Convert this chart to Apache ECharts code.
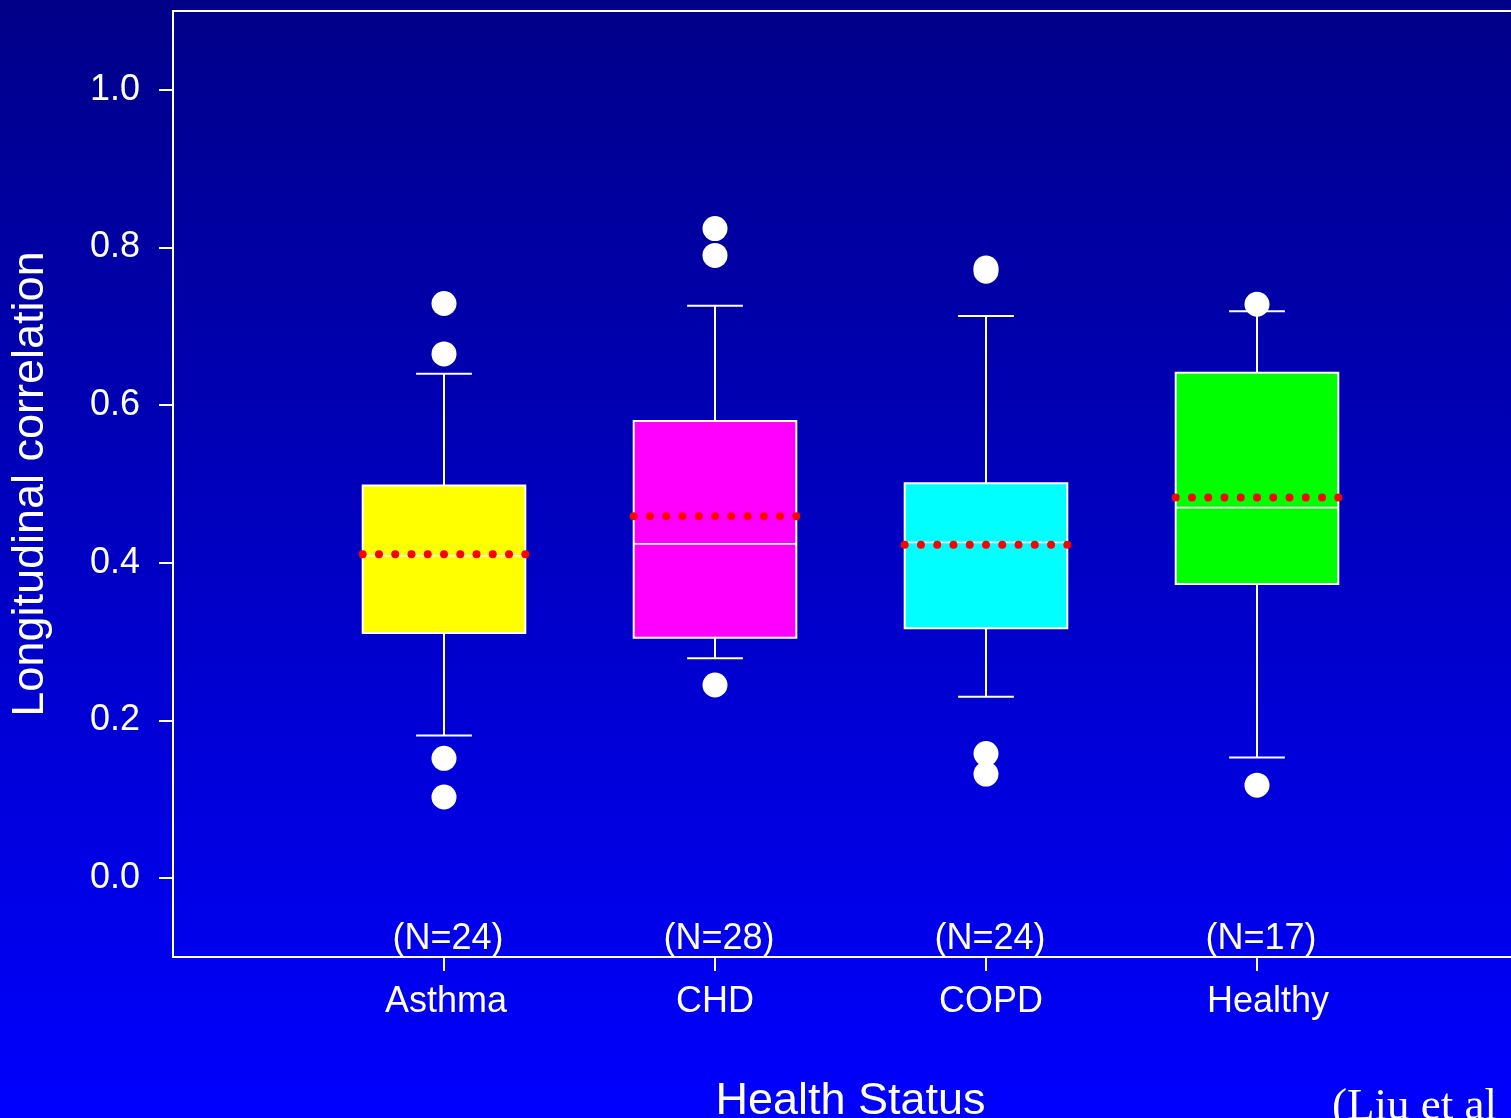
<!DOCTYPE html>
<html>
<head>
<meta charset="utf-8">
<style>
  html, body { margin: 0; padding: 0; background: #0000c0; }
  #chart { width: 1511px; height: 1118px; }
</style>
<script src="https://cdn.jsdelivr.net/npm/echarts@6/dist/echarts.min.js"></script>
</head>
<body>
<div id="chart"></div>
<script>
const categories = ['Asthma', 'CHD', 'COPD', 'Healthy'];
const nLabels = ['(N=24)', '(N=28)', '(N=24)', '(N=17)'];
const q1 = [0.311, 0.305, 0.317, 0.373];
const median = [0.409, 0.424, 0.426, 0.470];
const q3 = [0.498, 0.580, 0.501, 0.641];
const whiskerLow = [0.181, 0.279, 0.230, 0.153];
const whiskerHigh = [0.640, 0.726, 0.713, 0.719];
const mean = [0.411, 0.459, 0.423, 0.483];
const outliersAsthma = [0.729, 0.665, 0.152, 0.103];
const outliersCHD = [0.824, 0.790, 0.245];
const outliersCOPD = [0.774, 0.770, 0.158, 0.132];
const outliersHealthy = [0.728, 0.118];
const yTicks = [0, 0.2, 0.4, 0.6, 0.8, 1.0];
const boxColors = ['#FFFF00', '#FF00FF', '#00FFFF', '#00FF00'];

const FONT = '"Liberation Sans", Arial, Helvetica, sans-serif';
const catPos = categories.map((c, i) => i + 1);

const boxData = categories.map((c, i) => [catPos[i], q1[i], median[i], q3[i], whiskerLow[i], whiskerHigh[i], mean[i], i]);

const outlierGroups = [outliersAsthma, outliersCHD, outliersCOPD, outliersHealthy];
const outlierData = [];
outlierGroups.forEach((arr, i) => arr.forEach(v => outlierData.push([catPos[i], v])));

const BOX_HALF = 0.3;
const CAP_HALF = 0.103;
const N_DOTS = 11;
// small horizontal nudges of the category labels (style only)
const labelPadLeft = [4, 0, 10, 22];

function renderBox(params, api) {
  const x = api.value(0);
  const vq1 = api.value(1), vmed = api.value(2), vq3 = api.value(3);
  const vlo = api.value(4), vhi = api.value(5), vmean = api.value(6);
  const idx = api.value(7);
  const pTopL = api.coord([x - BOX_HALF, vq3]);
  const pBotR = api.coord([x + BOX_HALF, vq1]);
  const pMid = api.coord([x, vmed]);
  const pHi = api.coord([x, vhi]);
  const pLo = api.coord([x, vlo]);
  const pQ3 = api.coord([x, vq3]);
  const pQ1 = api.coord([x, vq1]);
  const capL = api.coord([x - CAP_HALF, vhi])[0];
  const capR = api.coord([x + CAP_HALF, vhi])[0];
  const white = { stroke: '#ffffff', lineWidth: 2 };
  const children = [
    { type: 'line', shape: { x1: pHi[0], y1: pHi[1], x2: pQ3[0], y2: pQ3[1] }, style: white },
    { type: 'line', shape: { x1: pLo[0], y1: pLo[1], x2: pQ1[0], y2: pQ1[1] }, style: white },
    { type: 'line', shape: { x1: capL, y1: pHi[1], x2: capR, y2: pHi[1] }, style: white },
    { type: 'line', shape: { x1: capL, y1: pLo[1], x2: capR, y2: pLo[1] }, style: white },
    { type: 'rect', shape: { x: pTopL[0], y: pTopL[1], width: pBotR[0] - pTopL[0], height: pBotR[1] - pTopL[1] },
      style: { fill: boxColors[idx], stroke: '#ffffff', lineWidth: 2 } },
    { type: 'line', shape: { x1: pTopL[0], y1: pMid[1], x2: pBotR[0], y2: pMid[1] }, style: { stroke: '#ffffff', lineWidth: 1.6 } }
  ];
  for (let k = 0; k < N_DOTS; k++) {
    const p = api.coord([x - BOX_HALF + (2 * BOX_HALF) * k / (N_DOTS - 1), vmean]);
    children.push({ type: 'circle', shape: { cx: p[0], cy: p[1], r: 4 }, style: { fill: '#ff0000' } });
  }
  const pN = api.coord([x, -0.1]);
  children.push({ type: 'text', x: pN[0] + 4, y: pN[1] - 18,
    style: { text: nLabels[idx], fill: '#ffffff', font: '36px ' + FONT, align: 'center', verticalAlign: 'middle' } });
  return { type: 'group', children: children };
}

const richX = {};
labelPadLeft.forEach((p, i) => {
  richX['c' + i] = { color: '#ffffff', fontSize: 36, fontFamily: FONT, padding: [0, 0, 0, p] };
});

const chart = echarts.init(document.getElementById('chart'));
chart.setOption({
  animation: false,
  backgroundColor: {
    type: 'linear', x: 0, y: 0, x2: 0, y2: 1,
    colorStops: [{ offset: 0, color: '#000088' }, { offset: 1, color: '#0000FF' }]
  },
  grid: {
    left: 173, right: -17, top: 11, bottom: 161,
    containLabel: false, outerBoundsMode: 'none',
    show: true, borderColor: '#ffffff', borderWidth: 2, backgroundColor: 'transparent'
  },
  xAxis: {
    type: 'value', min: 0, max: 5,
    name: 'Health Status', nameLocation: 'middle', nameGap: 122,
    nameTextStyle: { color: '#ffffff', fontSize: 45, fontFamily: FONT },
    axisLine: { show: true, onZero: false, lineStyle: { color: '#ffffff', width: 2 } },
    axisTick: { show: true, customValues: catPos, length: 14, inside: false, lineStyle: { color: '#ffffff', width: 2 } },
    axisLabel: { show: true, customValues: catPos,
      formatter: v => { const i = Math.round(v) - 1; return categories[i] ? '{c' + i + '|' + categories[i] + '}' : ''; },
      rich: richX,
      color: '#ffffff', fontSize: 36, fontFamily: FONT, margin: 27 },
    splitLine: { show: false }
  },
  yAxis: {
    type: 'value', min: -0.1, max: 1.1,
    name: 'Longitudinal correlation', nameLocation: 'middle', nameGap: 120,
    nameTextStyle: { color: '#ffffff', fontSize: 45, fontFamily: FONT },
    axisLine: { show: true, onZero: false, lineStyle: { color: '#ffffff', width: 2 } },
    axisTick: { show: true, customValues: yTicks, length: 14, inside: false, lineStyle: { color: '#ffffff', width: 2 } },
    axisLabel: { show: true, customValues: yTicks, formatter: v => Number(v).toFixed(1),
      color: '#ffffff', fontSize: 36, fontFamily: FONT, margin: 33, padding: [4, 0, 0, 0] },
    splitLine: { show: false }
  },
  series: [
    {
      type: 'custom',
      renderItem: renderBox,
      data: boxData,
      encode: { x: 0, y: [1, 2, 3, 4, 5, 6] },
      clip: false,
      z: 2
    },
    {
      type: 'scatter',
      data: outlierData,
      symbol: 'circle',
      symbolSize: 25,
      itemStyle: { color: '#ffffff', opacity: 1 },
      z: 3
    }
  ],
  graphic: [
    { type: 'text', left: 1332, top: 1085,
      style: { text: '(Liu et al', fill: '#ffffff', font: '45px "Liberation Serif", "Times New Roman", serif' } }
  ]
});
</script>
</body>
</html>
